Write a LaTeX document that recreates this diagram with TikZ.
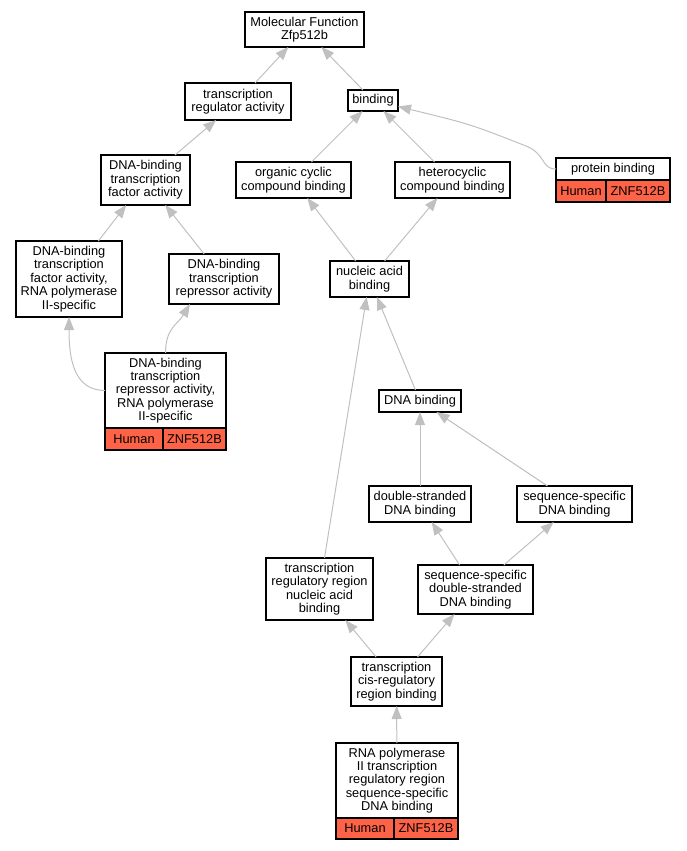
\documentclass[tikz,border=0pt]{standalone}
\usepackage{fontspec}
\setmainfont{Liberation Sans}
\usetikzlibrary{arrows.meta}

\definecolor{edgegray}{RGB}{192,192,192}
\definecolor{hitred}{RGB}{255,99,71}

\tikzstyle{term} = [rectangle, draw=black, line width=1.2pt, fill=white, align=center, inner sep=0pt, outer sep=0pt, font=\fontsize{12.8pt}{13.4pt}\selectfont]
\tikzstyle{cell} = [term, fill=hitred, anchor=north west]
\tikzstyle{arrow} = [draw=edgegray, line width=1pt, -{Triangle[length=13pt,width=10pt,fill=edgegray]}]

\begin{document}
\begin{tikzpicture}[x=1pt, y=-1pt]
    \useasboundingbox (0,0) rectangle (687,851);

    % Draw terms
    \node (mf) [term, minimum width=119pt, minimum height=35pt] at (304.5,29.5) {Molecular Function\\Zfp512b};
    \node (tra) [term, minimum width=106pt, minimum height=37pt] at (238,101.5) {transcription\\regulator activity};
    \node (bind) [term, minimum width=50pt, minimum height=21pt] at (373,100.5) {binding};
    \node (pb) [term, minimum width=114pt, minimum height=22pt] at (613,169) {protein binding};
    \node (pbh) [cell, minimum width=50pt, minimum height=22pt] at (pb.south west) {Human};
    \node (pbg) [cell, minimum width=64pt, minimum height=22pt] at (pbh.north east) {ZNF512B};
    \node (dtfa) [term, minimum width=89pt, minimum height=50pt] at (145.5,180) {DNA-binding\\transcription\\factor activity};
    \node (occb) [term, minimum width=115pt, minimum height=36pt] at (293.5,180) {organic cyclic\\compound binding};
    \node (hcb) [term, minimum width=115pt, minimum height=36pt] at (452.5,180) {heterocyclic\\compound binding};
    \node (dtfar) [term, minimum width=106pt, minimum height=76pt] at (69,279) {DNA-binding\\transcription\\factor activity,\\RNA polymerase\\II-specific};
    \node (dtra) [term, minimum width=110pt, minimum height=50pt] at (224,279) {DNA-binding\\transcription\\repressor activity};
    \node (nab) [term, minimum width=79pt, minimum height=36pt] at (369.5,279) {nucleic acid\\binding};
    \node (dtrar) [term, minimum width=121pt, minimum height=75pt] at (165.5,390.5) {DNA-binding\\transcription\\repressor activity,\\RNA polymerase\\II-specific};
    \node (dtrarh) [cell, minimum width=58pt, minimum height=22pt] at (dtrar.south west) {Human};
    \node (dtrarg) [cell, minimum width=63pt, minimum height=22pt] at (dtrarh.north east) {ZNF512B};
    \node (dnab) [term, minimum width=82pt, minimum height=22pt] at (420,401) {DNA binding};
    \node (dsdna) [term, minimum width=102pt, minimum height=36pt] at (420,504) {double-stranded\\DNA binding};
    \node (ssdna) [term, minimum width=115pt, minimum height=36pt] at (574.5,504) {sequence-specific\\DNA binding};
    \node (trrnab) [term, minimum width=107pt, minimum height=62pt] at (319.5,589) {transcription\\regulatory region\\nucleic acid\\binding};
    \node (ssds) [term, minimum width=115pt, minimum height=49pt] at (475.5,589.5) {sequence-specific\\double-stranded\\DNA binding};
    \node (tcrb) [term, minimum width=91pt, minimum height=49pt] at (396.5,681.5) {transcription\\cis-regulatory\\region binding};
    \node (rpol) [term, minimum width=122pt, minimum height=75pt] at (397,780.5) {RNA polymerase\\II transcription\\regulatory region\\sequence-specific\\DNA binding};
    \node (rpolh) [cell, minimum width=58pt, minimum height=21pt] at (rpol.south west) {Human};
    \node (rpolg) [cell, minimum width=64pt, minimum height=21pt] at (rpolh.north east) {ZNF512B};

    % Draw is_a links
    \draw [arrow] (tra) -- (mf);
    \draw [arrow] (bind) -- (mf);
    \draw [arrow] (dtfa) -- (tra);
    \draw [arrow] (occb) -- (bind);
    \draw [arrow] (hcb) -- (bind);
    \draw [arrow] (pb.west) .. controls (541,169) and (546,154) .. (526,146) .. controls (470,124) .. ([yshift=-6pt]bind.east);
    \draw [arrow] (dtfar) -- (dtfa);
    \draw [arrow] (dtra) -- (dtfa);
    \draw [arrow] (nab) -- (occb);
    \draw [arrow] (nab) -- (hcb);
    \draw [arrow] (dtrar.west) .. controls +(-32,0) and +(0,40) .. (dtfar.south);
    \draw [arrow] (dtrar.north) .. controls +(0,-25) and +(-12,20) .. ([xshift=-34pt]dtra.south);
    \draw [arrow] (dnab) -- (nab);
    \draw [arrow] (trrnab) -- (nab);
    \draw [arrow] (dsdna) -- (dnab);
    \draw [arrow] (ssdna) -- (dnab);
    \draw [arrow] (ssds) -- (dsdna);
    \draw [arrow] (ssds) -- (ssdna);
    \draw [arrow] (tcrb) -- (trrnab);
    \draw [arrow] (tcrb) -- (ssds);
    \draw [arrow] (rpol) -- (tcrb);

\end{tikzpicture}
\end{document}
